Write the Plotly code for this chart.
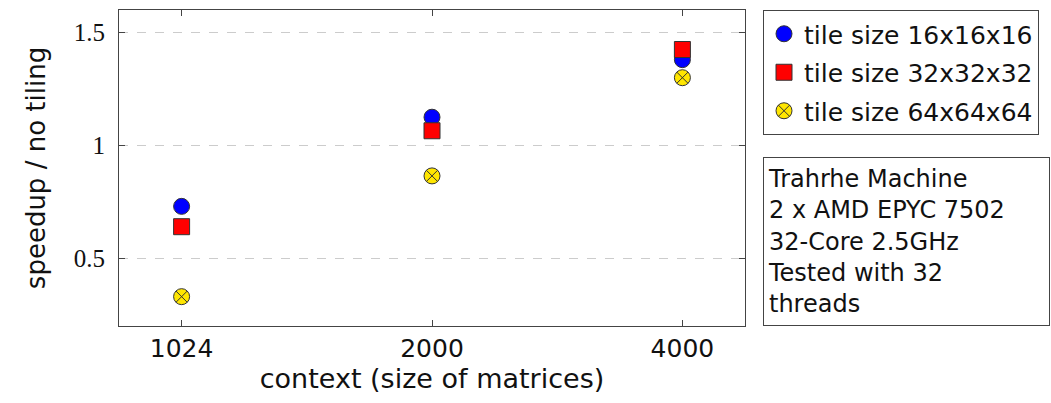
import plotly.graph_objects as go

categories = ["1024", "2000", "4000"]
tile16 = [0.73, 1.125, 1.38]
tile32 = [0.64, 1.065, 1.425]
tile64 = [0.33, 0.865, 1.30]
series_names = ["tile size 16x16x16", "tile size 32x32x32", "tile size 64x64x64"]
y_ticks = [0.5, 1.0, 1.5]
y_tick_labels = ["0.5", "1", "1.5"]
info_lines = ["Trahrhe Machine", "2 x AMD EPYC 7502", "32-Core 2.5GHz", "Tested with 32", "threads"]

FONT = "DejaVu Sans"
W, H = 1051, 403
L, R, T, B = 119, 745, 10, 326

fig = go.Figure()
styles = [
    dict(symbol="circle", color="#0000FF"),
    dict(symbol="square", color="#FF0000"),
    dict(symbol="circle-x", color="#FFE600"),
]
for name, vals, st in zip(series_names, [tile16, tile32, tile64], styles):
    fig.add_trace(go.Scatter(
        x=categories, y=vals, mode="markers", name=name, legendgroup=name,
        marker=dict(symbol=st["symbol"], color=st["color"], size=16,
                    line=dict(color="#333333", width=1)),
        cliponaxis=False,
    ))

fig.update_layout(
    width=W, height=H,
    margin=dict(l=L, r=W - R, t=T, b=H - B, autoexpand=False),
    plot_bgcolor="white", paper_bgcolor="white",
    font=dict(family=FONT, size=24, color="#111111"),
    showlegend=True,
    legend=dict(
        x=(763 - L) / (R - L), xanchor="left", y=1, yanchor="top",
        bordercolor="#444444", borderwidth=1, bgcolor="white",
        font=dict(family=FONT, size=25, color="#111111"),
        traceorder="grouped", tracegroupgap=3,
        itemwidth=30,
    ),
    xaxis=dict(
        type="category", range=[-0.25, 2.25],
        showline=True, linecolor="#444444", linewidth=1, mirror="ticks",
        ticks="inside", ticklen=6, tickcolor="#444444",
        showgrid=False, zeroline=False,
        tickfont=dict(family=FONT, size=25, color="#111111"),
        title=dict(text="context (size of matrices)", font=dict(family=FONT, size=27), standoff=5),
    ),
    yaxis=dict(
        range=[0.2, 1.6],
        tickvals=y_ticks, ticktext=y_tick_labels,
        showline=True, linecolor="#444444", linewidth=1, mirror="ticks",
        ticks="inside", ticklen=6, tickcolor="#444444",
        showgrid=True, gridcolor="#CCCCCC", griddash="dash", gridwidth=1,
        zeroline=False, ticklabelstandoff=8,
        tickfont=dict(family="Liberation Serif", size=25, color="#111111"),
        title=dict(text="speedup / no tiling", font=dict(family=FONT, size=26), standoff=20),
    ),
)

fig.add_annotation(
    xref="paper", yref="paper",
    x=(763 - L) / (R - L), xanchor="left",
    y=(B - 157) / (B - T), yanchor="top",
    text="<br>".join(info_lines), showarrow=False,
    align="left", valign="middle",
    width=277, height=159, borderpad=4,
    bordercolor="#444444", borderwidth=1, bgcolor="white",
    font=dict(family=FONT, size=24, color="#111111"),
)

fig.write_html("out.html", config={"displayModeBar": False},
               post_script="document.body.style.margin='0';")
